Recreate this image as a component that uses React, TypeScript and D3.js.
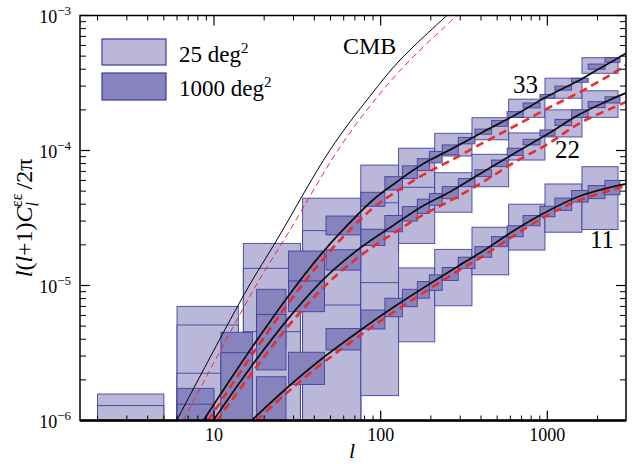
import * as d3 from "d3";

// bins in multipole l
const lightBins = [[2, 5], [6, 14], [15, 33], [34, 76], [76, 128], [128, 211], [211, 353], [353, 586], [586, 968], [968, 1614], [1614, 2655]];
const darkBins = [[6, 10], [11, 17], [18, 27], [28, 46], [47, 76], [76, 106], [106, 135], [135, 166], [166, 196], [196, 234], [234, 292], [292, 368], [368, 463], [463, 574], [574, 716], [716, 903], [903, 1111], [1111, 1399], [1399, 1759], [1759, 2217], [2217, 2729]];

// [low, high] of each error box, 25 deg^2 (light)
const light33 = [[1e-7, 1.57e-6], [1e-7, 7.0e-6], [1e-7, 2.05e-5], [1e-7, 4.43e-5], [1.8e-5, 7.8e-5], [5.25e-5, 1.04e-4], [9.1e-5, 1.34e-4], [1.2e-4, 1.75e-4], [1.76e-4, 2.4e-4], [2.44e-4, 3.43e-4], [3.73e-4, 4.87e-4]];
const light22 = [[1e-7, 1.29e-6], [1e-7, 5.1e-6], [1e-7, 1.34e-5], [1e-7, 2.55e-5], [7e-6, 4.1e-5], [2.05e-5, 5.34e-5], [3.49e-5, 6.85e-5], [5.39e-5, 9.37e-5], [8.5e-5, 1.35e-4], [1.26e-4, 2.0e-4], [1.76e-4, 2.77e-4]];
const light11 = [[1e-7, 8e-7], [1e-7, 2.24e-6], [1e-7, 4.55e-6], [1e-7, 7.17e-6], [1.53e-6, 1.05e-5], [3.83e-6, 1.35e-5], [7.08e-6, 1.85e-5], [1.2e-5, 2.7e-5], [1.83e-5, 4.0e-5], [2.48e-5, 5.65e-5], [2.6e-5, 7.59e-5]];

// 1000 deg^2 (dark)
const dark33 = [[1e-7, 1.73e-6], [1e-7, 4.5e-6], [3.5e-6, 9.37e-6], [7e-6, 1.8e-5], [2.37e-5, 3.27e-5], [3.86e-5, 4.9e-5], [5.1e-5, 6.4e-5], [6.2e-5, 7.7e-5], [7.1e-5, 8.7e-5], [8.1e-5, 9.84e-5], [9.3e-5, 1.1e-4], [1.12e-4, 1.25e-4], [1.32e-4, 1.44e-4], [1.51e-4, 1.67e-4], [1.76e-4, 1.94e-4], [2.07e-4, 2.25e-4], [2.44e-4, 2.6e-4], [2.8e-4, 3.0e-4], [3.2e-4, 3.43e-4], [4.0e-4, 4.37e-4], [4.5e-4, 4.87e-4]];
const dark22 = [[1e-7, 1.32e-6], [1e-7, 3.18e-6], [2.37e-6, 6.1e-6], [6.4e-6, 1.08e-5], [1.3e-5, 1.84e-5], [1.98e-5, 2.61e-5], [2.5e-5, 3.3e-5], [3.0e-5, 3.84e-5], [3.42e-5, 4.36e-5], [3.93e-5, 4.8e-5], [4.4e-5, 5.4e-5], [5.4e-5, 6.2e-5], [6.4e-5, 7.2e-5], [7.6e-5, 8.5e-5], [9.2e-5, 1.04e-4], [1.1e-4, 1.21e-4], [1.28e-4, 1.42e-4], [1.53e-4, 1.7e-4], [1.76e-4, 2.0e-4], [2.08e-4, 2.3e-4], [2.25e-4, 2.5e-4]];
const dark11 = [[1e-7, 7e-7], [1e-7, 9e-7], [1e-7, 2.11e-6], [1.85e-6, 3.2e-6], [3.33e-6, 4.8e-6], [4.76e-6, 6.58e-6], [5.87e-6, 8.05e-6], [6.97e-6, 9.37e-6], [8.05e-6, 1.07e-5], [9.2e-6, 1.2e-5], [1.09e-5, 1.36e-5], [1.34e-5, 1.62e-5], [1.62e-5, 1.94e-5], [1.94e-5, 2.3e-5], [2.3e-5, 2.77e-5], [2.77e-5, 3.3e-5], [3.23e-5, 3.86e-5], [3.6e-5, 4.44e-5], [4.15e-5, 5.05e-5], [4.4e-5, 5.5e-5], [4.7e-5, 6.0e-5]];

// model curves [l, value]
const black33 = [[8.63, 1e-6], [16.4, 3.3e-6], [28.6, 8.7e-6], [43.2, 1.665e-5], [61.1, 2.68e-5], [89.9, 4.3e-5], [120, 5.65e-5], [179, 7.94e-5], [260, 1.01e-4], [411, 1.37e-4], [640, 1.83e-4], [1009, 2.53e-4], [1570, 3.33e-4], [1986, 3.95e-4], [2443, 4.56e-4], [2965, 5.25e-4]];
const black22 = [[9.9, 1e-6], [16.4, 2.43e-6], [28.6, 5.9e-6], [46.3, 1.14e-5], [75.9, 1.91e-5], [120, 2.81e-5], [179, 3.88e-5], [260, 4.93e-5], [411, 6.93e-5], [640, 9.58e-5], [1009, 1.33e-4], [1570, 1.86e-4], [2443, 2.41e-4], [2965, 2.67e-4]];
const black11 = [[16.8, 1e-6], [27.8, 1.77e-6], [45.7, 2.95e-6], [75.9, 4.68e-6], [106, 6.26e-6], [165, 8.95e-6], [291, 1.39e-5], [411, 1.8e-5], [640, 2.58e-5], [1009, 3.56e-5], [1570, 4.6e-5], [2443, 5.37e-5], [2965, 5.65e-5]];
const red33 = [[9.24, 1e-6], [16.4, 2.9e-6], [28.6, 7.68e-6], [43.2, 1.47e-5], [61.1, 2.37e-5], [89.9, 3.75e-5], [120, 4.84e-5], [179, 6.58e-5], [260, 8.36e-5], [411, 1.14e-4], [640, 1.52e-4], [1009, 2.06e-4], [1570, 2.71e-4], [2443, 3.69e-4], [2965, 4.3e-4]];
const red22 = [[10.4, 1e-6], [16.4, 2.14e-6], [28.6, 5.19e-6], [46.3, 9.92e-6], [75.9, 1.67e-5], [120, 2.45e-5], [179, 3.33e-5], [260, 4.23e-5], [411, 5.85e-5], [640, 8.22e-5], [1009, 1.12e-4], [1570, 1.6e-4], [2443, 2.06e-4], [2965, 2.29e-4]];
const red11 = [[18.0, 1e-6], [27.8, 1.63e-6], [45.7, 2.71e-6], [75.9, 4.3e-6], [106, 5.75e-6], [165, 8.22e-6], [291, 1.28e-5], [411, 1.65e-5], [640, 2.37e-5], [1009, 3.33e-5], [1570, 4.3e-5], [2443, 5.1e-5], [2965, 5.46e-5]];
const cmb = [[5.97, 1e-6], [15.7, 9.26e-6], [23.8, 2.17e-5], [49.7, 1.01e-4], [86.3, 2.53e-4], [130.6, 4.68e-4], [250, 1e-3]];
const cmbRed = [[6.54, 1e-6], [17.1, 9.1e-6], [28.6, 2.58e-5], [57.0, 1.06e-4], [96.4, 2.53e-4], [150, 4.68e-4], [287, 1e-3]];

const xTicks = [10, 100, 1000];
const yTicks = [1e-6, 1e-5, 1e-4, 1e-3];

const W = 633, H = 464;
const left = 80, right = 626, top = 15.5, bottom = 420.5;

const LIGHT = "#bbb7d9";
const DARK = "#8783bd";
const EDGE = "#3b3b9e";
const RED = "#ee2a2a";
const FONT = "'Liberation Serif', 'DejaVu Serif', serif";

export default function App() {
  const x = d3.scaleLog().domain([1.57, 2965]).range([left, right]);
  const y = d3.scaleLog().domain([1e-6, 1e-3]).range([bottom, top]);
  const line = d3.line<number[]>().x((d) => x(d[0])).y((d) => y(d[1])).curve(d3.curveCatmullRom.alpha(0.5));

  const boxes = (bins: number[][], vals: number[][], fill: string, key: string) =>
    bins.map((b, i) => {
      const [lo, hi] = vals[i];
      const yy = y(hi);
      return (
        <rect key={key + i} x={x(b[0])} y={yy} width={x(b[1]) - x(b[0])} height={y(lo) - yy}
          fill={fill} stroke={EDGE} strokeWidth={1} strokeOpacity={0.85} />
      );
    });

  const minorX: number[] = [];
  for (let d = 1; d <= 1000; d *= 10) for (let k = 2; k <= 9; k++) if (k * d >= 1.57 && k * d <= 2965) minorX.push(k * d);
  const minorY: number[] = [];
  for (let d = 1e-6; d < 1e-3; d *= 10) for (let k = 2; k <= 9; k++) minorY.push(k * d);

  return (
    <div style={{ position: "absolute", left: 0, top: 0 }}>
      <svg width={W} height={H} style={{ display: "block", background: "#fff" }} fontFamily={FONT}>
        <defs>
          <clipPath id="plot">
            <rect x={left} y={top} width={right - left} height={bottom - top} />
          </clipPath>
        </defs>
        <g clipPath="url(#plot)">
          {boxes(lightBins, light33, LIGHT, "l33")}
          {boxes(lightBins, light22, LIGHT, "l22")}
          {boxes(lightBins, light11, LIGHT, "l11")}
          {boxes(darkBins, dark33, DARK, "d33")}
          {boxes(darkBins, dark22, DARK, "d22")}
          {boxes(darkBins, dark11, DARK, "d11")}
          <path d={line(cmb) ?? ""} fill="none" stroke="#000" strokeWidth={1} />
          <path d={line(cmbRed) ?? ""} fill="none" stroke={RED} strokeWidth={1} strokeDasharray="6,4" />
          {[black33, black22, black11].map((s, i) => (
            <path key={"b" + i} d={line(s) ?? ""} fill="none" stroke="#111" strokeWidth={1.8} />
          ))}
          {[red33, red22, red11].map((s, i) => (
            <path key={"r" + i} d={line(s) ?? ""} fill="none" stroke={RED} strokeWidth={2.6} strokeDasharray="8,5" />
          ))}
        </g>

        {/* frame */}
        <rect x={left} y={top} width={right - left} height={bottom - top} fill="none" stroke="#000" strokeWidth={1.5} />
        <line x1={left} x2={right} y1={bottom} y2={bottom} stroke="#000" strokeWidth={2.5} />

        {/* ticks */}
        {xTicks.map((t) => (
          <g key={"xt" + t}>
            <line x1={x(t)} x2={x(t)} y1={bottom} y2={bottom - 10} stroke="#000" strokeWidth={1.2} />
            <line x1={x(t)} x2={x(t)} y1={top} y2={top + 10} stroke="#000" strokeWidth={1.2} />
            <text x={x(t)} y={441} textAnchor="middle" fontSize={18}>{t}</text>
          </g>
        ))}
        {minorX.filter((t) => !xTicks.includes(t)).map((t) => (
          <g key={"xm" + t}>
            <line x1={x(t)} x2={x(t)} y1={bottom} y2={bottom - 5} stroke="#000" strokeWidth={1} />
            <line x1={x(t)} x2={x(t)} y1={top} y2={top + 5} stroke="#000" strokeWidth={1} />
          </g>
        ))}
        {yTicks.map((t) => (
          <g key={"yt" + t}>
            <line x1={left} x2={left + 10} y1={y(t)} y2={y(t)} stroke="#000" strokeWidth={1.2} />
            <line x1={right} x2={right - 10} y1={y(t)} y2={y(t)} stroke="#000" strokeWidth={1.2} />
            <text x={71} y={y(t) + 7} textAnchor="end" fontSize={18}>
              10<tspan fontSize={13} dy={-8}>{"\u2212" + Math.round(-Math.log10(t))}</tspan>
            </text>
          </g>
        ))}
        {minorY.map((t, i) => (
          <g key={"ym" + i}>
            <line x1={left} x2={left + 6} y1={y(t)} y2={y(t)} stroke="#000" strokeWidth={1} />
            <line x1={right} x2={right - 6} y1={y(t)} y2={y(t)} stroke="#000" strokeWidth={1} />
          </g>
        ))}

        {/* axis labels */}
        <text x={352} y={458} textAnchor="middle" fontSize={22} fontStyle="italic">l</text>
        <text transform="translate(32,218) rotate(-90)" textAnchor="middle" fontSize={24}>
          <tspan fontStyle="italic">l</tspan>(<tspan fontStyle="italic">l</tspan>+1)<tspan fontStyle="italic">C</tspan>
          <tspan fontSize={16} fontStyle="italic" dy={6}>l</tspan>
          <tspan fontSize={16} dx={-5} dy={-16}>{"\u03b5\u03b5"}</tspan>
          <tspan dy={10} dx={4}>/2π</tspan>
        </text>

        {/* legend */}
        <rect x={102} y={39} width={64} height={26} fill={LIGHT} stroke={EDGE} strokeWidth={1.2} />
        <rect x={102} y={73} width={64} height={27} fill={DARK} stroke={EDGE} strokeWidth={1.2} />
        <text x={179} y={62} fontSize={23}>25 deg<tspan fontSize={15} dy={-9}>2</tspan></text>
        <text x={179} y={96} fontSize={23}>1000 deg<tspan fontSize={15} dy={-9}>2</tspan></text>

        {/* annotations */}
        <text x={343} y={54} fontSize={24}>CMB</text>
        <text x={513} y={93} fontSize={25}>33</text>
        <text x={555} y={158} fontSize={25}>22</text>
        <text x={590} y={248} fontSize={25}>11</text>
      </svg>
    </div>
  );
}
